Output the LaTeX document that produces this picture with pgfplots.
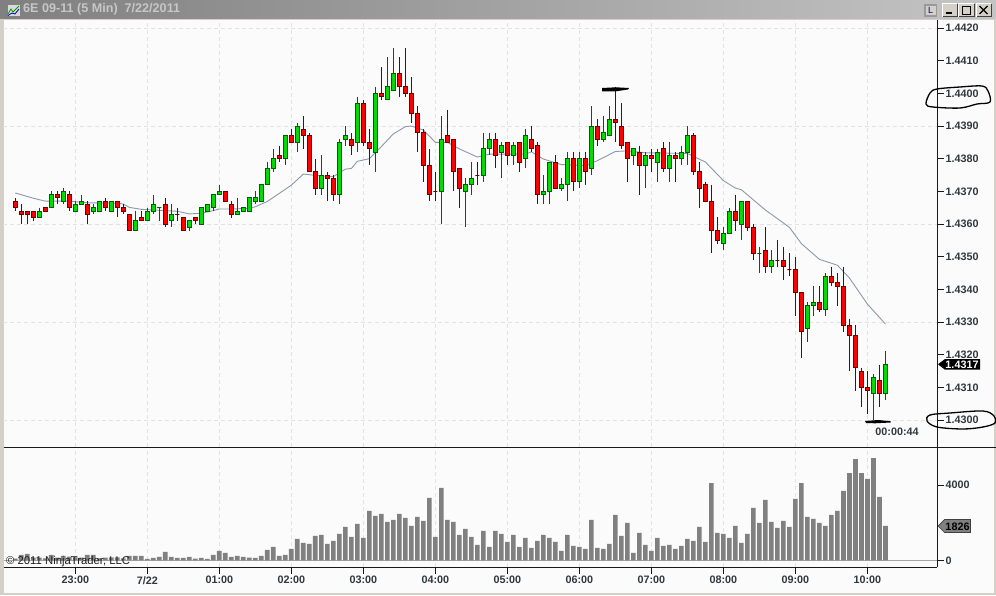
\documentclass[border=0pt]{standalone}
\usepackage{fontspec}
\setmainfont{Liberation Sans}
\usepackage{pgfplots}
\usepackage{pgfplotstable}
\pgfplotsset{compat=1.18}
\definecolor{winbg}{HTML}{D4D0C8}
\definecolor{plotbg}{HTML}{FBFBFB}
\definecolor{gridc}{HTML}{E2E2E2}
\definecolor{gf}{HTML}{00DC00}
\definecolor{gd}{HTML}{005F00}
\definecolor{rf}{HTML}{FF0000}
\definecolor{rd}{HTML}{6E0000}
\definecolor{barc}{HTML}{808080}
\definecolor{mac}{HTML}{8C99AB}
\definecolor{txtc}{HTML}{303840}
\pgfplotstableread{
i up top bot high low
0 0 1.4367 1.4365 1.4368 1.4364
1 0 1.4364 1.4363 1.4366 1.4360
2 0 1.4364 1.4363 1.4364 1.4360
3 0 1.4364 1.4362 1.4364 1.4361
4 1 1.4364 1.4362 1.4365 1.4362
5 0 1.4365 1.4364 1.4365 1.4364
6 1 1.4369 1.4365 1.4370 1.4365
7 0 1.4369 1.4368 1.4370 1.4366
8 1 1.4370 1.4367 1.4371 1.4366
9 0 1.4369 1.4365 1.4370 1.4364
10 1 1.4366 1.4364 1.4367 1.4364
11 1 1.4367 1.4366 1.4369 1.4366
12 0 1.4366 1.4363 1.4367 1.4360
13 1 1.4365 1.4364 1.4366 1.4363
14 1 1.4367 1.4364 1.4367 1.4364
15 0 1.4367 1.4365 1.4368 1.4364
16 1 1.4367 1.4364 1.4367 1.4364
17 0 1.4367 1.4365 1.4367 1.4362
18 0 1.4365 1.4364 1.4366 1.4363
19 0 1.4363 1.4358 1.4363 1.4358
20 1 1.4361 1.4358 1.4364 1.4358
21 0 1.4362 1.4361 1.4364 1.4361
22 1 1.4364 1.4361 1.4365 1.4361
23 1 1.4366 1.4364 1.4369 1.4363
24 1 1.4365 1.4365 1.4365 1.4361
25 0 1.4366 1.4360 1.4368 1.4359
26 1 1.4363 1.4361 1.4366 1.4359
27 0 1.4363 1.4363 1.4365 1.4361
28 0 1.4362 1.4358 1.4362 1.4358
29 1 1.4361 1.4359 1.4361 1.4358
30 0 1.4362 1.4361 1.4362 1.4360
31 1 1.4365 1.4360 1.4365 1.4360
32 1 1.4366 1.4364 1.4366 1.4364
33 1 1.4369 1.4365 1.4369 1.4364
34 1 1.4370 1.4369 1.4372 1.4369
35 0 1.4370 1.4367 1.4370 1.4367
36 0 1.4366 1.4363 1.4367 1.4362
37 1 1.4364 1.4363 1.4368 1.4363
38 1 1.4365 1.4364 1.4365 1.4364
39 1 1.4368 1.4364 1.4368 1.4364
40 1 1.4368 1.4367 1.4370 1.4366
41 1 1.4372 1.4367 1.4372 1.4367
42 1 1.4377 1.4372 1.4379 1.4372
43 1 1.4380 1.4377 1.4383 1.4376
44 0 1.4381 1.4380 1.4384 1.4379
45 1 1.4387 1.4380 1.4387 1.4378
46 0 1.4387 1.4385 1.4389 1.4385
47 1 1.4390 1.4385 1.4391 1.4382
48 0 1.4389 1.4387 1.4393 1.4383
49 0 1.4387 1.4376 1.4388 1.4376
50 0 1.4376 1.4371 1.4380 1.4369
51 1 1.4375 1.4371 1.4381 1.4369
52 0 1.4375 1.4374 1.4376 1.4367
53 0 1.4374 1.4369 1.4375 1.4367
54 1 1.4385 1.4369 1.4386 1.4366
55 1 1.4387 1.4386 1.4390 1.4384
56 0 1.4386 1.4384 1.4388 1.4381
57 1 1.4397 1.4385 1.4399 1.4382
58 0 1.4397 1.4385 1.4398 1.4384
59 0 1.4385 1.4383 1.4389 1.4378
60 1 1.4400 1.4382 1.4402 1.4376
61 0 1.4400 1.4399 1.4408 1.4398
62 1 1.4402 1.4398 1.4411 1.4398
63 1 1.4406 1.4401 1.4414 1.4401
64 0 1.4406 1.4402 1.4411 1.4399
65 0 1.4402 1.4400 1.4414 1.4399
66 0 1.4400 1.4394 1.4405 1.4391
67 0 1.4394 1.4388 1.4396 1.4382
68 0 1.4388 1.4378 1.4389 1.4373
69 0 1.4378 1.4369 1.4383 1.4367
70 0 1.4370 1.4370 1.4376 1.4367
71 1 1.4386 1.4370 1.4393 1.4360
72 0 1.4387 1.4385 1.4395 1.4385
73 0 1.4386 1.4376 1.4386 1.4370
74 0 1.4377 1.4371 1.4377 1.4365
75 1 1.4372 1.4370 1.4374 1.4359
76 1 1.4374 1.4372 1.4379 1.4369
77 0 1.4375 1.4375 1.4379 1.4372
78 1 1.4383 1.4375 1.4388 1.4373
79 1 1.4386 1.4383 1.4388 1.4381
80 0 1.4386 1.4381 1.4388 1.4377
81 1 1.4384 1.4382 1.4385 1.4374
82 0 1.4385 1.4381 1.4385 1.4378
83 1 1.4384 1.4381 1.4385 1.4378
84 0 1.4385 1.4379 1.4385 1.4376
85 1 1.4387 1.4380 1.4389 1.4377
86 0 1.4386 1.4383 1.4390 1.4382
87 0 1.4384 1.4369 1.4385 1.4366
88 1 1.4370 1.4369 1.4375 1.4366
89 1 1.4379 1.4370 1.4379 1.4366
90 0 1.4379 1.4371 1.4381 1.4371
91 1 1.4372 1.4371 1.4374 1.4370
92 1 1.4380 1.4372 1.4382 1.4367
93 0 1.4380 1.4373 1.4382 1.4370
94 1 1.4380 1.4373 1.4382 1.4371
95 0 1.4380 1.4376 1.4382 1.4372
96 1 1.4390 1.4377 1.4396 1.4375
97 0 1.4390 1.4386 1.4392 1.4384
98 1 1.4388 1.4386 1.4393 1.4385
99 1 1.4392 1.4387 1.4396 1.4387
100 0 1.4392 1.4391 1.4402 1.4385
101 0 1.4390 1.4384 1.4397 1.4383
102 0 1.4385 1.4380 1.4385 1.4373
103 1 1.4383 1.4381 1.4383 1.4378
104 0 1.4382 1.4378 1.4384 1.4369
105 1 1.4381 1.4378 1.4382 1.4371
106 0 1.4381 1.4380 1.4383 1.4376
107 1 1.4382 1.4379 1.4383 1.4373
108 0 1.4383 1.4377 1.4385 1.4376
109 1 1.4381 1.4377 1.4385 1.4373
110 0 1.4381 1.4380 1.4382 1.4373
111 1 1.4382 1.4380 1.4384 1.4378
112 1 1.4387 1.4382 1.4390 1.4378
113 0 1.4387 1.4376 1.4388 1.4375
114 0 1.4376 1.4371 1.4379 1.4365
115 0 1.4372 1.4367 1.4373 1.4367
116 0 1.4367 1.4358 1.4372 1.4351
117 0 1.4358 1.4355 1.4362 1.4354
118 1 1.4357 1.4354 1.4359 1.4352
119 1 1.4364 1.4357 1.4365 1.4357
120 0 1.4364 1.4361 1.4369 1.4358
121 1 1.4367 1.4360 1.4367 1.4355
122 0 1.4367 1.4359 1.4367 1.4358
123 0 1.4359 1.4351 1.4360 1.4349
124 1 1.4351 1.4351 1.4353 1.4345
125 0 1.4352 1.4347 1.4359 1.4345
126 1 1.4349 1.4347 1.4352 1.4345
127 0 1.4349 1.4349 1.4355 1.4347
128 0 1.4349 1.4347 1.4353 1.4343
129 0 1.4346 1.4346 1.4351 1.4344
130 0 1.4346 1.4339 1.4350 1.4332
131 0 1.4339 1.4327 1.4339 1.4319
132 1 1.4335 1.4328 1.4336 1.4324
133 1 1.4336 1.4335 1.4341 1.4332
134 0 1.4336 1.4334 1.4341 1.4333
135 1 1.4344 1.4334 1.4345 1.4332
136 0 1.4344 1.4342 1.4347 1.4341
137 0 1.4342 1.4341 1.4345 1.4335
138 0 1.4341 1.4329 1.4347 1.4327
139 0 1.4329 1.4326 1.4331 1.4315
140 0 1.4326 1.4316 1.4329 1.4309
141 0 1.4315 1.4310 1.4316 1.4304
142 0 1.4310 1.4309 1.4315 1.4302
143 1 1.4313 1.4308 1.4314 1.4300
144 0 1.4312 1.4308 1.4317 1.4304
145 1 1.4317 1.4308 1.4321 1.4306
}\candles
\pgfplotsset{
  chartfont/.style={font=\fontsize{10.8}{12}\selectfont\bfseries, text=txtc},
  gridln/.style={gridc, line width=0.8pt, dash pattern=on 4pt off 3pt},
}
\begin{document}
\begin{tikzpicture}[x=1pt,y=-1pt]
\path[use as bounding box] (0,0) rectangle (996,595);
\fill[winbg] (0,0) rectangle (996,595);
\fill[plotbg] (3.5,20) rectangle (994,592.5);
\coordinate (pA) at (3.5,447);
\coordinate (pB) at (3.5,567);
% title bar
\shade[left color=black!50, right color=black!23] (0,0) rectangle (996,18.7);
% price panel
\begin{axis}[
  at={(pA)}, anchor=south west, scale only axis,
  width=933.5pt, height=427pt,
  xmin=-1.97, xmax=153.6,
  ymin=1.429175, ymax=1.442245,
  clip=false,
  axis x line*=bottom, axis y line*=right,
  x axis line style={draw=none},
  y axis line style={black!90, line width=0.8pt},
  xtick={10,22,34,46,58,70,82,94,106,118,130,142},
  xticklabels={},
  xmajorgrids, grid style={gridln},
  x tick style={draw=none},
  ytick={1.4300,1.4310,1.4320,1.4330,1.4340,1.4350,1.4360,1.4370,1.4380,1.4390,1.4400,1.4410,1.4420},
  y tick style={black!90, line width=0.8pt},
  major tick length=6.5pt, tick align=outside,
  yticklabel style={chartfont, anchor=west, inner sep=1.8pt, /pgf/number format/.cd, fixed, fixed zerofill, precision=4, assume math mode=true, /tikz/.cd},
]
\addplot[gridln, forget plot] coordinates {(-1.97,1.4300)(153.6,1.4300)};
\addplot[gridln, forget plot] coordinates {(-1.97,1.4330)(153.6,1.4330)};
\addplot[gridln, forget plot] coordinates {(-1.97,1.4360)(153.6,1.4360)};
\addplot[gridln, forget plot] coordinates {(-1.97,1.4390)(153.6,1.4390)};
\addplot[gridln, forget plot] coordinates {(-1.97,1.4420)(153.6,1.4420)};
\addplot[scatter, only marks, mark=*, mark size=0pt, draw=none,
  visualization depends on={\thisrow{up} \as \cUp},
  visualization depends on={(\thisrow{high}-\thisrow{top})*32670 \as \cA},
  visualization depends on={(\thisrow{low}-\thisrow{top})*32670 \as \cB},
  visualization depends on={(\thisrow{bot}-\thisrow{top})*32670 \as \cC},
  scatter/@pre marker code/.code={%
    \ifdim\cUp pt>0.5pt \def\cDk{gd}\def\cFl{gf}\else\def\cDk{rd}\def\cFl{rf}\fi
    \draw[\cDk, line width=1pt] (0pt,\cA pt) -- (0pt,\cB pt);
    \filldraw[draw=\cDk, fill=\cFl, line width=0.9pt] (-2.1pt,0pt) rectangle (2.1pt,\cC pt);
  },
  scatter/@post marker code/.code={},
] table[x=i, y=top] {\candles};
\addplot[mac, line width=0.9pt] coordinates {
(0,1.43695)(3,1.43679)(5,1.43670)(9,1.43670)(12,1.43665)(17,1.43664)(18,1.43661)(19,1.43651)(21,1.43645)(25,1.43641)(27,1.43639)(29,1.43631)(31,1.43633)(33,1.43641)(34,1.43646)(36,1.43646)(39,1.43648)(40,1.43653)(42,1.43669)(44,1.43694)(46,1.43719)(48,1.43753)(50,1.43749)(53,1.43745)(55,1.43768)(56,1.43770)(57,1.43792)(59,1.43800)(61,1.43837)(63,1.43876)(65,1.43898)(66,1.43900)(68,1.43888)(70,1.43850)(72,1.43850)(74,1.43830)(77,1.43805)(79,1.43814)(85,1.43814)(86,1.43821)(88,1.43799)(91,1.43782)(95,1.43779)(97,1.43794)(100,1.43822)(102,1.43824)(105,1.43818)(112,1.43816)(113,1.43807)(115,1.43790)(118,1.43733)(120,1.43710)(121,1.43705)(125,1.43643)(129,1.43590)(131,1.43540)(134,1.43492)(137,1.43474)(139,1.43435)(142,1.43355)(145,1.43294)};
\end{axis}
% volume panel
\begin{axis}[
  at={(pB)}, anchor=south west, scale only axis,
  width=933.5pt, height=120pt,
  xmin=-1.97, xmax=153.6,
  ymin=-356, ymax=6018,
  clip=false,
  axis x line*=bottom, axis y line*=right,
  axis line style={black!90, line width=0.8pt},
  xtick={10,22,34,46,58,70,82,94,106,118,130,142},
  xticklabels={23:00,7/22,01:00,02:00,03:00,04:00,05:00,06:00,07:00,08:00,09:00,10:00},
  xmajorgrids, grid style={gridln},
  ytick={0,4000},
  tick style={black!90, line width=0.8pt},
  major tick length=6.5pt, tick align=outside,
  xticklabel style={chartfont, inner sep=1pt, yshift=-1.5pt},
  yticklabel style={chartfont, anchor=west, inner sep=1.8pt, /pgf/number format/.cd, fixed, 1000 sep={}, assume math mode=true, /tikz/.cd},
]
\addplot[black!35, line width=0.9pt, forget plot] coordinates {(-1.97,0)(153.6,0)};
\addplot[ybar, bar width=4.7pt, bar shift=0pt, fill=barc, draw=none] coordinates {
(0,90)(1,283)(2,336)(3,142)(4,142)(5,106)(6,283)(7,142)(8,230)(9,195)(10,159)(11,142)(12,283)(13,283)(14,106)(15,142)(16,159)(17,159)(18,106)(19,230)(20,230)(21,230)(22,71)(23,124)(24,177)(25,442)(26,177)(27,124)(28,124)(29,177)(30,88)(31,124)(32,71)(33,283)(34,496)(35,389)(36,177)(37,230)(38,177)(39,142)(40,124)(41,230)(42,549)(43,708)(44,230)(45,283)(46,602)(47,1133)(48,920)(49,867)(50,1292)(51,1345)(52,867)(53,1027)(54,1398)(55,1770)(56,1239)(57,1929)(58,1186)(59,2620)(60,2354)(61,2460)(62,2036)(63,2142)(64,2460)(65,2248)(66,1823)(67,2301)(68,2089)(69,3310)(70,1239)(71,3841)(72,2142)(73,2036)(74,1345)(75,1664)(76,1239)(77,814)
(78,1558)(79,708)(80,1558)(81,1398)(82,974)(83,1345)(84,708)(85,1186)(86,655)(87,1027)(88,1345)(89,1186)(90,974)(91,496)(92,1345)(93,761)(94,708)(95,602)(96,2142)(97,655)(98,602)(99,867)(100,2407)(101,1292)(102,1982)(103,389)(104,1451)(105,814)(106,496)(107,1186)(108,761)(109,814)(110,602)(111,761)(112,1133)(113,1027)(114,1770)(115,974)(116,4106)(117,1451)(118,1398)(119,1186)(120,1823)(121,920)(122,1398)(123,2779)(124,1982)(125,3204)(126,2036)(127,1717)(128,2089)(129,1770)(130,3257)(131,4106)(132,2301)(133,2195)(134,1982)(135,1823)(136,2407)(137,2620)(138,3682)(139,4637)(140,5381)(141,4637)(142,4319)(143,5434)(144,3363)(145,1826)};
\end{axis}
% separator
\draw[black!90, line width=0.8pt] (3.5,447) -- (996,447);
% title
\node[anchor=west, inner sep=0pt, text=black!22, font=\fontsize{12.6}{14}\selectfont\bfseries] at (23,9.5) {6E 09-11 (5 Min)\ \ 7/22/2011};
% icon
\fill[white!85!black] (7.5,4.5) rectangle (19.5,16);
\draw[green!60!black, line width=0.8pt] (8,14) -- (11,9) -- (13,12) -- (19,6);
\draw[blue!70!black, line width=0.8pt] (8,15.5) -- (12,13) -- (15,14) -- (19,9);
% buttons
\fill[black!40] (924,4) rectangle (937,16.5);
\fill[winbg] (926,5.5) rectangle (935.5,15);
\node[inner sep=0pt, text=blue!50!black, font=\fontsize{9}{10}\selectfont] at (930.7,10.3) {L};
\foreach \a/\b in {942/957,958/974,976/991}{
  \fill[winbg] (\a,3.5) rectangle (\b,16.5);
  \draw[black!75, line width=0.8pt] (\a,16.5) -- (\b,16.5) -- (\b,3.5);
  \draw[white, line width=0.8pt] (\a,16.5) -- (\a,3.5) -- (\b,3.5);
}
\fill[black] (946,12.3) rectangle (952,14.2);
\draw[black, line width=0.9pt] (962,6) rectangle (970.5,14);
\draw[black, line width=1.2pt] (979.5,6) -- (987.5,14) (987.5,6) -- (979.5,14);
% hand-drawn marks
\fill[black] (602,88) -- (616,87.3) -- (629,88) -- (628,89.5) -- (616,91.3) -- (602,91.3) -- cycle;
\fill[black] (865,421) -- (878,420) -- (890.5,421.2) -- (890.5,422.5) -- (875,423.3) -- (866,423) -- cycle;
\draw[black, line width=1.3pt] plot[smooth cycle, tension=0.55] coordinates {(926,104)(930,93)(937,89)(960,87)(982,86)(988,91)(990,102)(977,104)(960,108)(933,107)};
\draw[black, line width=1.3pt] plot[smooth cycle, tension=0.55] coordinates {(927,421)(930,415)(950,413)(983,411)(994,416)(995,423)(983,427)(963,429)(937,427)};
% price tags
\fill[black] (938,364.3) -- (945,359) -- (980,359) -- (980,369.7) -- (945,369.7) -- cycle;
\node[inner sep=0pt, text=white, font=\fontsize{10.8}{12}\selectfont\bfseries] at (962,364.6) {1.4317};
\filldraw[fill=barc, draw=black!75, line width=0.7pt] (938,526) -- (944.5,519.5) -- (970.5,519.5) -- (970.5,532.5) -- (944.5,532.5) -- cycle;
\node[inner sep=0pt, text=black, font=\fontsize{10.8}{12}\selectfont\bfseries] at (957.5,526.3) {1826};
\node[inner sep=0pt, text=txtc, font=\fontsize{10.8}{12}\selectfont\bfseries] at (897,432) {00:00:44};
\node[anchor=west, inner sep=0pt, text=black!88, font=\fontsize{11.3}{12}\selectfont] at (6,561.5) {© 2011 NinjaTrader, LLC};
\end{tikzpicture}
\end{document}
